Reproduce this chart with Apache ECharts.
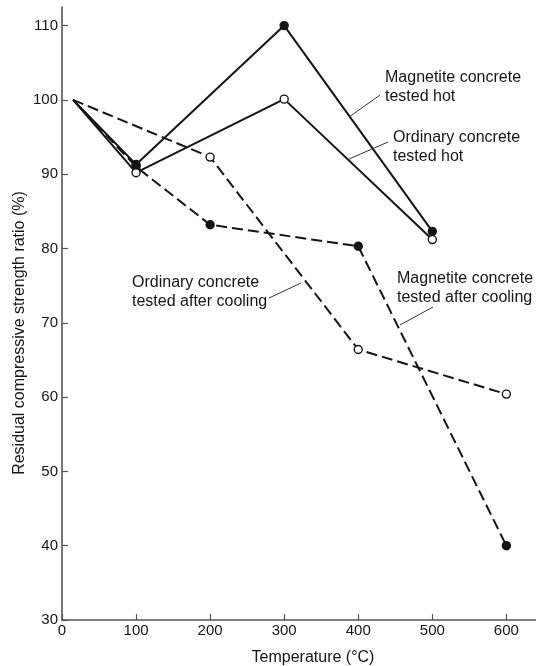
<!DOCTYPE html>
<html>
<head>
<meta charset="utf-8">
<script src="https://cdn.jsdelivr.net/npm/echarts@6/dist/echarts.min.js"></script>
<style>
html,body{margin:0;padding:0;background:#fff;}
#chart{width:536px;height:666px;}
</style>
</head>
<body>
<div id="chart"></div>
<script>
// ---- data ----
const xTicks = [0, 100, 200, 300, 400, 500, 600];
const yTicks = [30, 40, 50, 60, 70, 80, 90, 100, 110];

const magHotT = [15, 100, 300, 500];
const magHotV = [100, 91.3, 110, 82.3];

const ordHotT = [15, 100, 300, 500];
const ordHotV = [100, 90.2, 100.1, 81.2];

const ordCoolT = [15, 200, 400, 600];
const ordCoolV = [100, 92.3, 66.4, 60.4];

const magCoolT = [15, 100, 200, 400, 600];
const magCoolV = [100, 91, 83.2, 80.3, 40];

const xTitle = 'Temperature (°C)';
const yTitle = 'Residual compressive strength ratio (%)';
const notes = [
  'Magnetite concrete\ntested hot',
  'Ordinary concrete\ntested hot',
  'Magnetite concrete\ntested after cooling',
  'Ordinary concrete\ntested after cooling'
];

// ---- build ----
const INK = '#151515';
const FONT = '"Liberation Sans", Arial, Helvetica, sans-serif';

function pts(t, v) {
  return t.map((x, i) => i === 0 ? { value: [x, v[i]], symbol: 'none' } : [x, v[i]]);
}
function series(name, t, v, filled, dashed) {
  return {
    name: name,
    type: 'line',
    data: pts(t, v),
    symbol: 'circle',
    symbolSize: 8,
    itemStyle: { color: filled ? INK : '#fff', borderColor: INK, borderWidth: 1.4 },
    lineStyle: { color: INK, width: 2, type: dashed ? [11, 5] : 'solid' },
    z: filled ? 3 : 4,
    animation: false
  };
}

const chart = echarts.init(document.getElementById('chart'), null, { renderer: 'canvas' });

const noteStyle = { fill: INK, font: '16px ' + FONT, lineHeight: 19 };
function note(text, x, y) {
  return { type: 'text', left: x, top: y, style: Object.assign({ text: text }, noteStyle), z: 10 };
}
function leader(x1, y1, x2, y2) {
  return { type: 'line', shape: { x1: x1, y1: y1, x2: x2, y2: y2 }, style: { stroke: '#333', lineWidth: 1 }, z: 10 };
}

chart.setOption({
  backgroundColor: '#fff',
  animation: false,
  grid: { left: 62, right: 0, top: 7, bottom: 46, containLabel: false },
  xAxis: {
    type: 'value',
    min: 0, max: 640,
    splitLine: { show: false },
    axisLine: { show: true, onZero: false, lineStyle: { color: '#555', width: 1.6 } },
    axisTick: { show: true, inside: true, length: 6, customValues: xTicks, lineStyle: { color: '#555', width: 1.2 } },
    axisLabel: { customValues: xTicks, fontSize: 15, color: INK, fontFamily: FONT, margin: 3 }
  },
  yAxis: {
    type: 'value',
    min: 30, max: 112.5,
    splitLine: { show: false },
    axisLine: { show: true, onZero: false, lineStyle: { color: '#555', width: 1.6 } },
    axisTick: { show: true, inside: true, length: 6, customValues: yTicks, lineStyle: { color: '#555', width: 1.2 } },
    axisLabel: { customValues: yTicks, fontSize: 15, color: INK, fontFamily: FONT, margin: 4 }
  },
  series: [
    series('Magnetite concrete tested hot', magHotT, magHotV, true, false),
    series('Ordinary concrete tested hot', ordHotT, ordHotV, false, false),
    series('Ordinary concrete tested after cooling', ordCoolT, ordCoolV, false, true),
    series('Magnetite concrete tested after cooling', magCoolT, magCoolV, true, true)
  ],
  graphic: [
    { type: 'text', x: 313, y: 658, style: { text: xTitle, fill: INK, font: '16px ' + FONT, align: 'center', verticalAlign: 'middle' } },
    { type: 'text', x: 20, y: 333, rotation: Math.PI / 2, style: { text: yTitle, fill: INK, font: '16px ' + FONT, align: 'center', verticalAlign: 'middle' } },
    note(notes[0], 385, 68),
    note(notes[1], 393, 128),
    note(notes[2], 397, 269),
    note(notes[3], 132, 273),
    leader(380, 95, 349, 117),
    leader(388, 142, 349, 159),
    leader(433, 307, 400, 325),
    leader(269, 298, 301, 283)
  ]
});
</script>
</body>
</html>
